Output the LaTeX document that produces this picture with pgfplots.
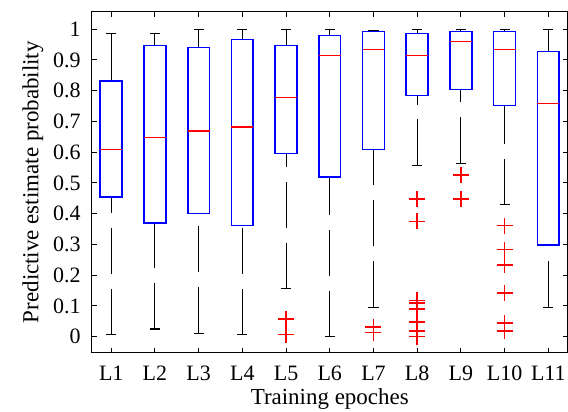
\documentclass[border=0pt]{standalone}
\usepackage{fontspec}
\setmainfont{Liberation Serif}
\usepackage{pgfplots}
\pgfplotsset{compat=1.18}

% one MATLAB-style box: position, lower whisker, lower quartile, median, upper quartile, upper whisker
\newcommand\mlbox[6]{%
  \pgfmathsetmacro\xl{#1-0.25}\pgfmathsetmacro\xr{#1+0.25}%
  \pgfmathsetmacro\cl{#1-0.115}\pgfmathsetmacro\cr{#1+0.115}%
  \addplot[black, line width=0.5pt, dash pattern=on 23pt off 7.5pt]
    coordinates {(#1,#2) (#1,#3)};
  \addplot[black, line width=0.5pt, dash pattern=on 23pt off 7.5pt]
    coordinates {(#1,#6) (#1,#5)};
  \addplot[black, line width=0.6pt] coordinates {(\cl,#2) (\cr,#2)};
  \addplot[black, line width=0.6pt] coordinates {(\cl,#6) (\cr,#6)};
  \addplot[color={rgb,1:red,0;green,0;blue,1}, line width=0.8pt, line join=miter]
    coordinates {(\xl,#3) (\xr,#3) (\xr,#5) (\xl,#5) (\xl,#3) (\xr,#3)};
  \addplot[color={rgb,1:red,1;green,0;blue,0}, line width=0.8pt] coordinates {(\xl,#4) (\xr,#4)};
}

\begin{document}
\begin{tikzpicture}
\begin{axis}[
  scale only axis,
  width=238.65pt, height=170.8pt,
  xmin=0.55, xmax=11.45,
  ymin=-0.052, ymax=1.057,
  xtick={1,...,11},
  xticklabels={L1,L2,L3,L4,L5,L6,L7,L8,L9,L10,L11},
  ytick={0,0.1,...,1},
  yticklabels={0,0.1,0.2,0.3,0.4,0.5,0.6,0.7,0.8,0.9,1},
  tick align=inside,
  major tick length=2.5pt,
  tick style={black, line width=0.5pt},
  axis line style={line width=0.65pt},
  /pgf/number format/assume math mode=true,
  xticklabel style={font=\fontsize{11}{12}\selectfont, yshift=-3pt},
  yticklabel style={font=\fontsize{11}{12}\selectfont, xshift=-2pt},
  xlabel={Training epoches},
  ylabel={Predictive estimate probability},
  label style={font=\fontsize{11.5}{13}\selectfont},
  xlabel style={yshift=3pt},
  ylabel style={yshift=-2pt},
  outl/.style={color={rgb,1:red,1;green,0;blue,0}, only marks, mark=+,
    mark size=4pt, mark options={line width=0.8pt}},
]

\mlbox{1}{0.0065}{0.4545}{0.609}{0.831}{0.985}
\mlbox{2}{0.025}{0.369}{0.648}{0.947}{0.985}
\mlbox{3}{0.011}{0.401}{0.668}{0.940}{1.0}
\mlbox{4}{0.0065}{0.362}{0.682}{0.966}{1.0}
\mlbox{5}{0.156}{0.596}{0.778}{0.947}{1.0}
\mlbox{6}{0.0}{0.519}{0.914}{0.979}{0.999}
\mlbox{7}{0.096}{0.609}{0.934}{0.992}{0.997}
\mlbox{8}{0.557}{0.784}{0.914}{0.986}{0.999}
\mlbox{9}{0.564}{0.804}{0.960}{0.992}{0.999}
\mlbox{10}{0.429}{0.752}{0.934}{0.992}{0.999}
\mlbox{11}{0.096}{0.299}{0.758}{0.927}{0.999}

% outliers
\addplot[outl] coordinates {(5,0.057) (5,0.0065)};
\addplot[outl] coordinates {(7,0.031) (7,0.013)};
\addplot[outl] coordinates {(8,0.448) (8,0.375) (8,0.118) (8,0.110) (8,0.090) (8,0.047) (8,0.018) (8,0.0)};
\addplot[outl] coordinates {(9,0.526) (9,0.448)};
\addplot[outl] coordinates {(10,0.361) (10,0.283) (10,0.233) (10,0.143) (10,0.044) (10,0.018)};

\end{axis}
\pgfresetboundingbox
\path ([shift={(-45.85pt,-29.35pt)}]current axis.south west)
  rectangle ([shift={(0pt,5.85pt)}]current axis.north east);
\end{tikzpicture}
\end{document}
